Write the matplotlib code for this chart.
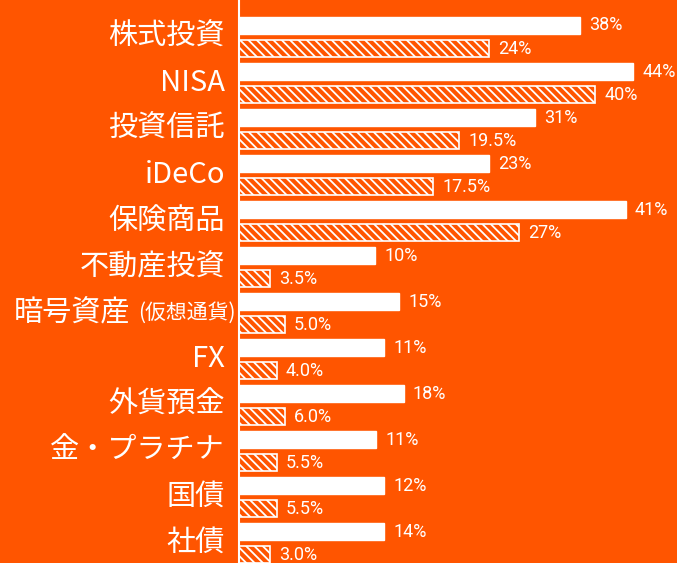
import matplotlib
matplotlib.use('Agg')
import matplotlib.pyplot as plt
import numpy as np

# chart values, white bar = first series, hatched bar = second series
# bar lengths (the printed labels don't match them exactly)
categories = ['株式投資', 'NISA', '投資信託', 'iDeCo', '保険商品', '不動産投資',
              '暗号資産', 'FX', '外貨預金', '金・プラチナ', '国債', '社債']
series_a = [38.1, 44.0, 33.1, 27.9, 43.2, 15.2, 17.9, 16.2, 18.4, 15.3, 16.2, 16.2]
series_b = [27.9, 39.8, 24.6, 21.7, 31.3, 3.5, 5.1, 4.2, 5.1, 4.2, 4.2, 3.5]
labels_a = ['38%', '44%', '31%', '23%', '41%', '10%', '15%', '11%', '18%', '11%', '12%', '14%']
labels_b = ['24%', '40%', '19.5%', '17.5%', '27%', '3.5%', '5.0%', '4.0%', '6.0%', '5.5%', '5.5%', '3.0%']

bg = '#FF5500'
plt.rcParams['font.family'] = ['Noto Sans CJK JP', 'DejaVu Sans']
plt.rcParams['hatch.color'] = 'white'
plt.rcParams['hatch.linewidth'] = 1.3

fig = plt.figure(figsize=(6.77, 5.63), dpi=100, facecolor=bg)
ax = fig.add_axes([239 / 677, 0, 1 - 239 / 677, 1])
ax.set_facecolor(bg)

y = np.arange(len(categories))
h = 0.37
ax.barh(y - 0.25, series_a, height=h, color='white', edgecolor='white', linewidth=1)
ax.barh(y + 0.25, series_b, height=h, color=bg, edgecolor='white', linewidth=1.2, hatch='\\\\\\\\')

ax.set_xlim(0, 48.9)
ax.set_ylim(11.43, -0.804)

num_font = dict(color='white', fontsize=13, family=['Roboto', 'DejaVu Sans'])
for i in range(len(categories)):
    ax.annotate(labels_a[i], (series_a[i], y[i] - 0.25), xytext=(9, 0), textcoords='offset pixels',
                va='center', ha='left', **num_font)
    ax.annotate(labels_b[i], (series_b[i], y[i] + 0.25), xytext=(9, 0), textcoords='offset pixels',
                va='center', ha='left', **num_font)

# category labels on the left
for i, cat in enumerate(categories):
    if cat == '暗号資産':
        ax.annotate('(仮想通貨)', (0, y[i]), xytext=(-3, 0), textcoords='offset pixels',
                    ha='right', va='center', color='white', fontsize=15)
        ax.annotate(cat, (0, y[i]), xytext=(-109, 0), textcoords='offset pixels',
                    ha='right', va='center', color='white', fontsize=21)
    else:
        ax.annotate(cat, (0, y[i]), xytext=(-14, 0), textcoords='offset pixels',
                    ha='right', va='center', color='white', fontsize=21)

for s in ['top', 'right', 'bottom']:
    ax.spines[s].set_visible(False)
ax.spines['left'].set_color('white')
ax.spines['left'].set_linewidth(1.5)
ax.set_xticks([])
ax.set_yticks([])

fig.savefig('out.png', dpi=100, facecolor=bg)
